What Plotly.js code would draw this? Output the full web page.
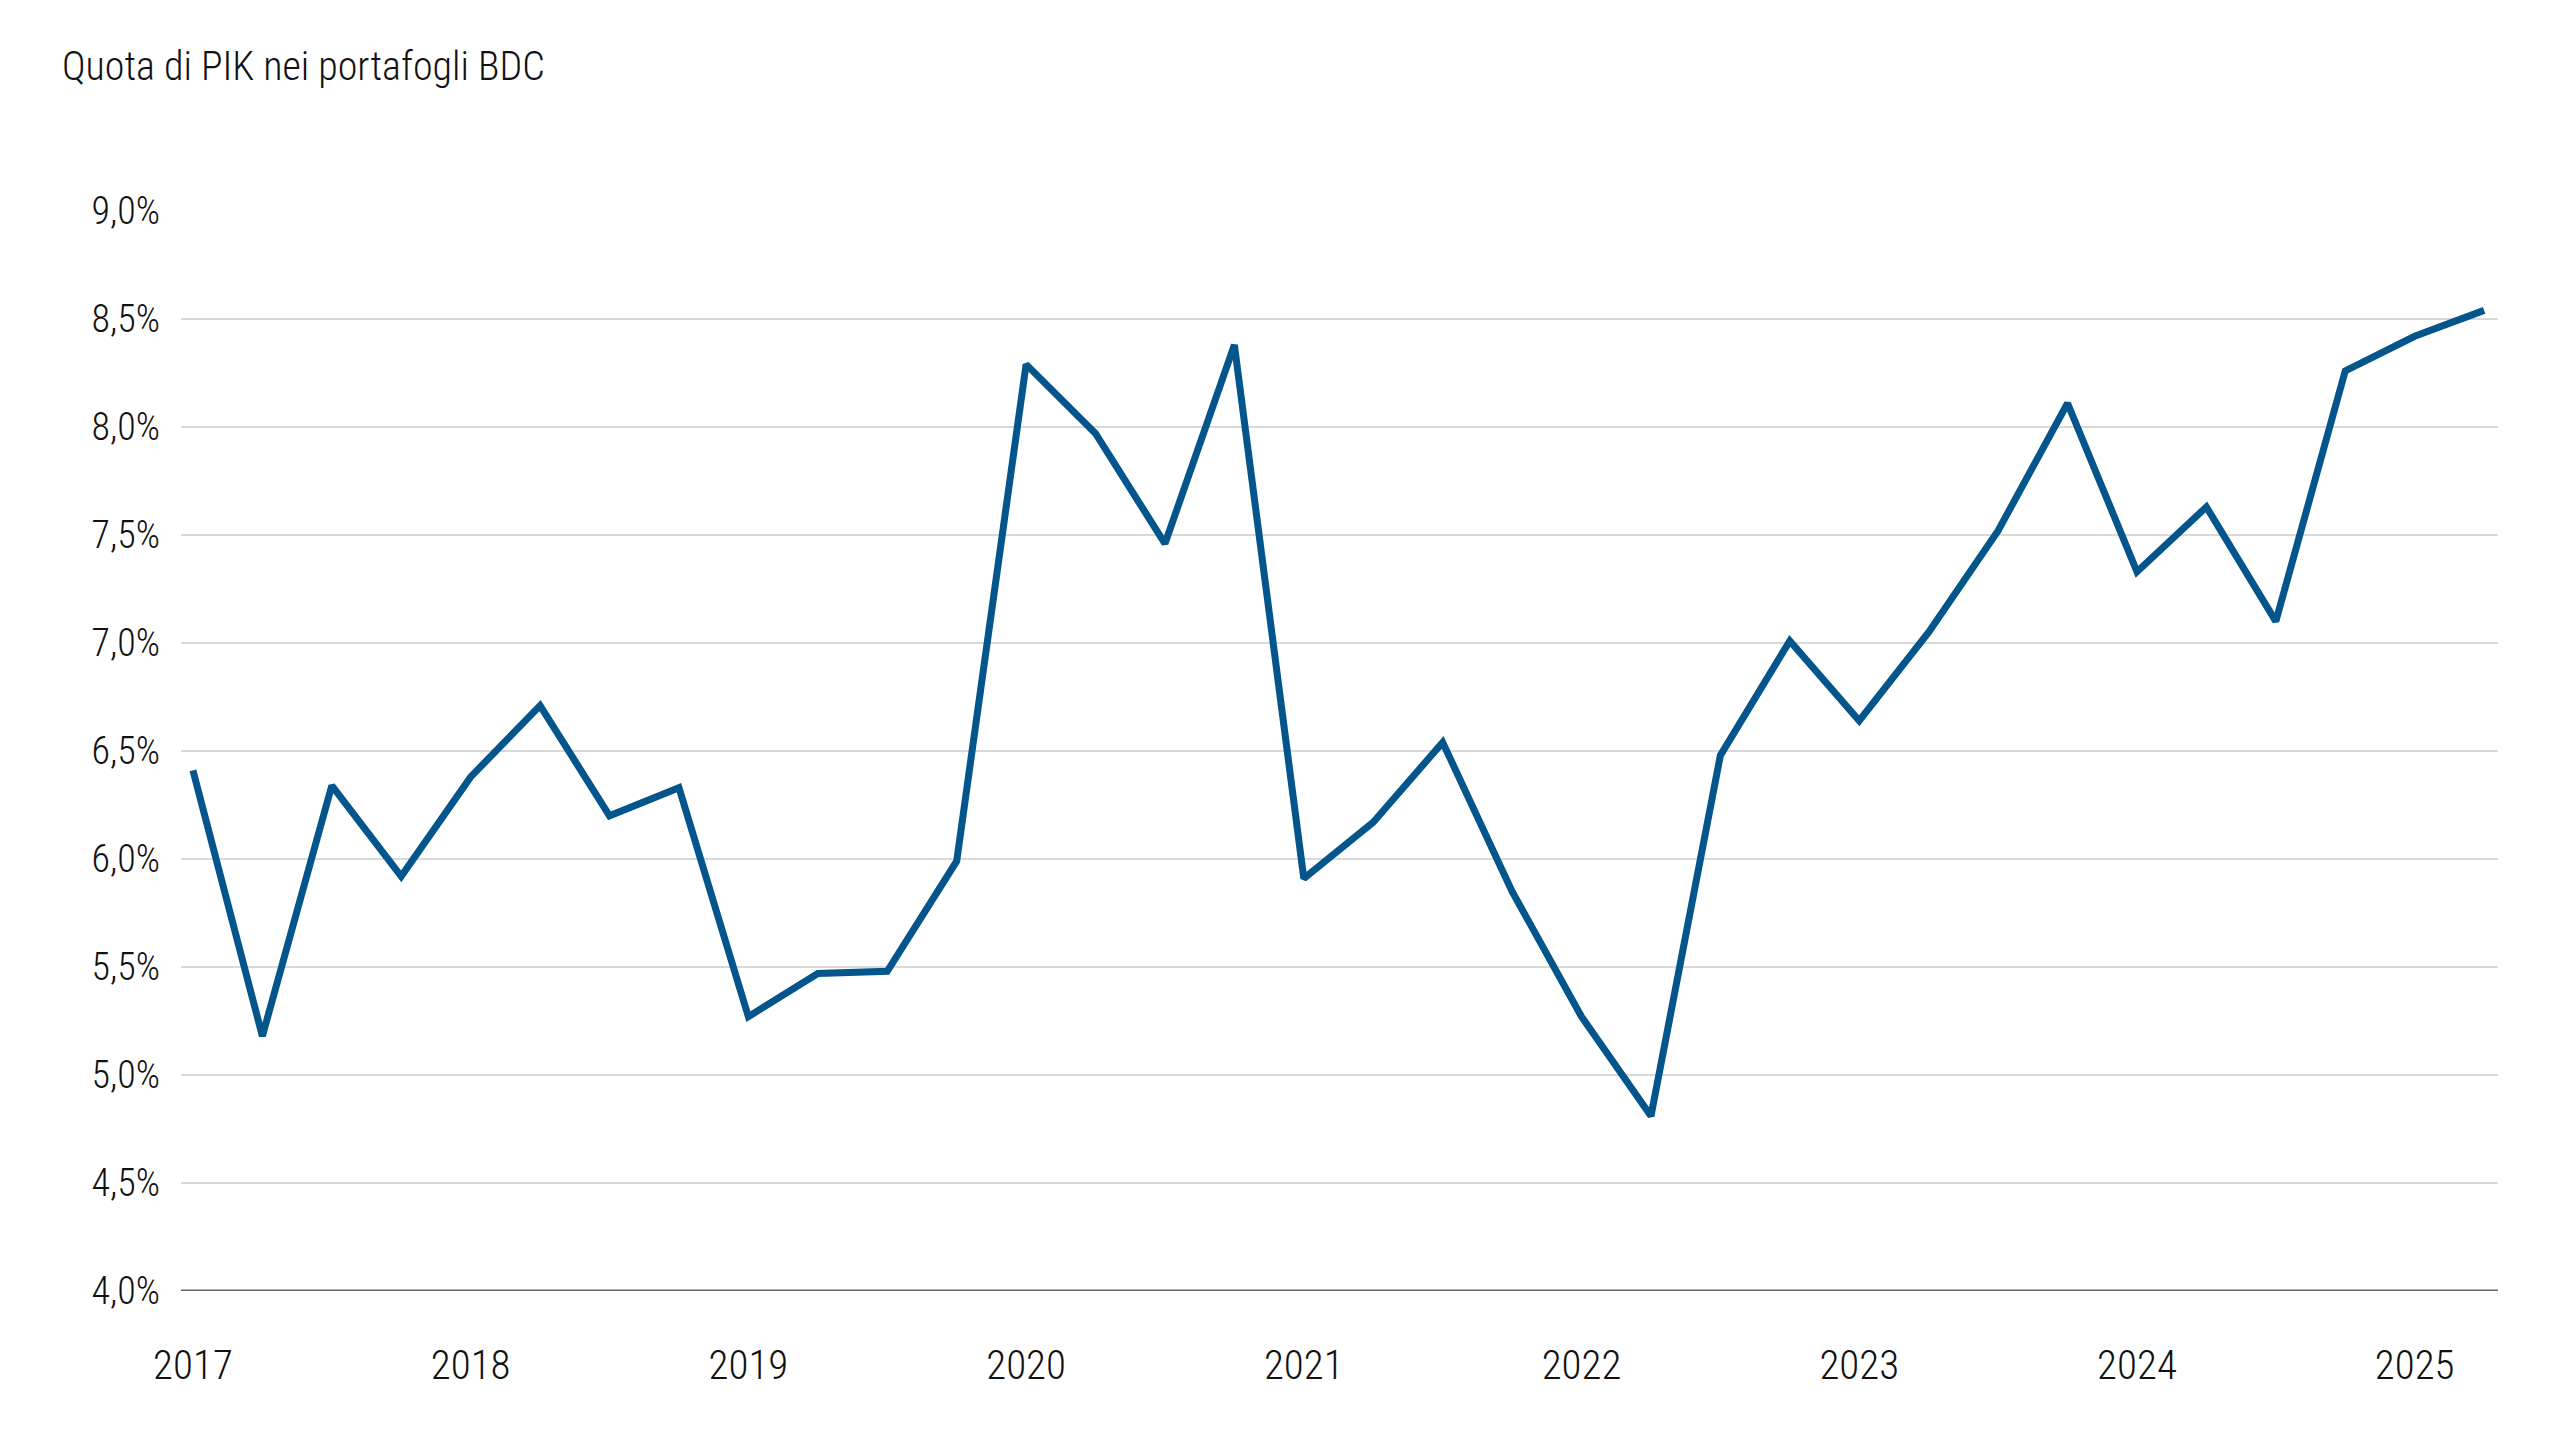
<!DOCTYPE html>
<html>
<head>
<meta charset="utf-8">
<script src="https://cdn.plot.ly/plotly-3.0.1.min.js"></script>
<style>
  html, body { margin: 0; padding: 0; background: #ffffff; }
  #chart { width: 2560px; height: 1440px; }
</style>
</head>
<body>
<div id="chart"></div>
<script>
// Quarterly observations, 2017 Q1 – 2025 Q2
const years = [2017, 2018, 2019, 2020, 2021, 2022, 2023, 2024, 2025];
const quarterIndex = [
  2017.00, 2017.25, 2017.50, 2017.75,
  2018.00, 2018.25, 2018.50, 2018.75,
  2019.00, 2019.25, 2019.50, 2019.75,
  2020.00, 2020.25, 2020.50, 2020.75,
  2021.00, 2021.25, 2021.50, 2021.75,
  2022.00, 2022.25, 2022.50, 2022.75,
  2023.00, 2023.25, 2023.50, 2023.75,
  2024.00, 2024.25, 2024.50, 2024.75,
  2025.00, 2025.25
];
const pikShare = [
  6.41, 5.18, 6.34, 5.92,
  6.38, 6.71, 6.20, 6.33,
  5.27, 5.47, 5.48, 5.99,
  8.29, 7.97, 7.46, 8.38,
  5.91, 6.17, 6.54, 5.85,
  5.27, 4.81, 6.48, 7.01,
  6.64, 7.05, 7.52, 8.11,
  7.33, 7.63, 7.10, 8.26,
  8.42, 8.54
];
const yTickVals = [4.0, 4.5, 5.0, 5.5, 6.0, 6.5, 7.0, 7.5, 8.0, 8.5, 9.0];
const yTickText = ["4,0%", "4,5%", "5,0%", "5,5%", "6,0%", "6,5%", "7,0%", "7,5%", "8,0%", "8,5%", "9,0%"];
const xTickText = years.map(String);
const chartTitle = "Quota di PIK nei portafogli BDC";

const FONT = "Roboto Condensed, Liberation Sans Narrow, DejaVu Sans Condensed, Roboto, sans-serif";

const trace = {
  type: "scatter",
  mode: "lines",
  x: quarterIndex,
  y: pikShare,
  line: { color: "#03558b", width: 7 },
  hoverinfo: "skip"
};

const layout = {
  width: 2560,
  height: 1440,
  paper_bgcolor: "#ffffff",
  plot_bgcolor: "#ffffff",
  showlegend: false,
  margin: { l: 181, r: 62, t: 211, b: 149 },
  font: { family: FONT, color: "#111111", size: 38, weight: 300 },
  title: {
    text: chartTitle,
    font: { family: FONT, size: 40, color: "#111111", weight: 300 },
    xref: "container", yref: "container",
    x: 62 / 2560, xanchor: "left",
    y: 1 - 66 / 1440, yanchor: "middle"
  },
  xaxis: {
    type: "linear",
    range: [2016.957, 2025.30],
    tickmode: "array",
    tickvals: years,
    ticktext: xTickText,
    showgrid: false,
    zeroline: false,
    showline: false,
    ticks: "",
    ticklabelstandoff: 46,
    tickfont: { family: FONT, size: 41, color: "#111111", weight: 300 }
  },
  yaxis: {
    range: [4.0, 9.0],
    tickmode: "array",
    tickvals: yTickVals,
    ticktext: yTickText,
    showgrid: true,
    gridcolor: "#d9d9d9",
    gridwidth: 1.5,
    zeroline: false,
    showline: false,
    ticks: "",
    ticklabelstandoff: 20,
    tickfont: { family: FONT, size: 38, color: "#111111", weight: 300 }
  },
  shapes: [
    {
      type: "line", xref: "paper", yref: "y",
      x0: 0, x1: 1, y0: 4.0, y1: 4.0,
      line: { color: "#62666a", width: 3 },
      layer: "above"
    }
  ]
};

Plotly.newPlot("chart", [trace], layout, { displayModeBar: false, staticPlot: true });
</script>
</body>
</html>
